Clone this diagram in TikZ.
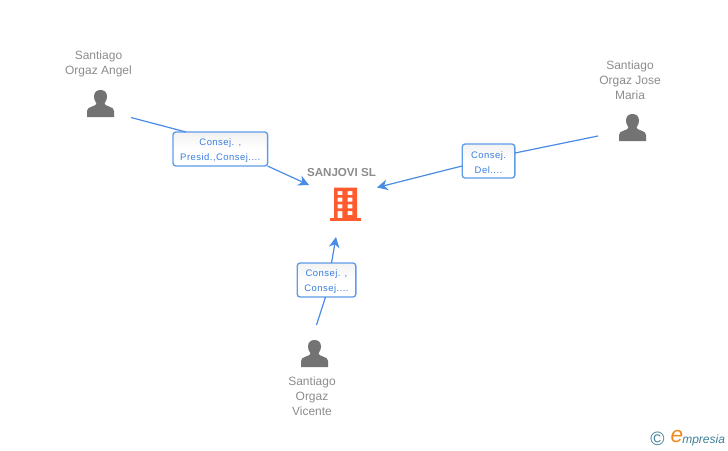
\documentclass[tikz,border=0pt]{standalone}
\usepackage{fontspec}
\setmainfont{Liberation Sans}
\usetikzlibrary{arrows.meta,calc}
\definecolor{linkblue}{HTML}{4A8BE6}
\definecolor{boxblue}{HTML}{5F9BE9}
\definecolor{labelblue}{HTML}{3A7FE0}
\definecolor{namegray}{HTML}{8C8C8C}
\definecolor{icongray}{HTML}{737373}
\definecolor{buildorange}{HTML}{FF5B2E}
\definecolor{logoteal}{HTML}{3F8097}
\definecolor{logoorange}{HTML}{F08A1D}
\newcommand{\personicon}[2]{%
  \fill[icongray,shift={(#1,#2)}]
    (0,27) -- (0,21) .. controls (0,18.5) and (2,17.5) .. (5,16.5)
    .. controls (8,15.5) and (9,15) .. (9.5,13.5)
    .. controls (7.5,11) and (7,8) .. (7,6.5)
    .. controls (7,2) and (10,0) .. (13.5,0)
    .. controls (17,0) and (20,2) .. (20,6.5)
    .. controls (20,8) and (19.5,11) .. (17.5,13.5)
    .. controls (18,15) and (19,15.5) .. (22,16.5)
    .. controls (25,17.5) and (27,18.5) .. (27,21) -- (27,27) -- cycle;}
\newcommand{\boxtext}[3]{\parbox[c][25.5pt][c]{#1}{\centering\vspace{2.4pt}#2\\#3}}
\tikzset{
  x=0.75pt,y=-0.75pt,
  person/.style={inner sep=0pt,align=center,text=namegray,font=\fontsize{9}{11.25}\selectfont},
  rolebox/.style={draw=boxblue,line width=1pt,rounded corners=2.2pt,
    top color=black!5,bottom color=white,middle color=white,inner sep=0pt,align=center,text=labelblue,
    font=\fontsize{7.1}{11.25}\selectfont\addfontfeatures{LetterSpace=5}},
  link/.style={draw=linkblue,line width=0.9pt},
  linkarrow/.style={link,-{Stealth[length=8pt,width=8pt,inset=2.5pt]}},
}
\begin{document}
\begin{tikzpicture}
\useasboundingbox (0,0) rectangle (728,450);
% people
\personicon{87}{90}
\personicon{619}{114}
\personicon{301}{340}
\node[person] (angel) at (98.5,63.5) {Santiago\\Orgaz Angel};
\node[person] (jose) at (630,80) {Santiago\\Orgaz Jose\\Maria};
\node[person] (vicente) at (312,396) {Santiago\\Orgaz\\Vicente};
% company
\node[inner sep=0pt,text=namegray,font=\fontsize{8.7}{11}\selectfont\bfseries] (company) at (341.5,172.5) {SANJOVI SL};
\fill[buildorange,even odd rule]
  (334,187.5) rectangle (357,218)
  (337.7,191) rectangle (342.3,195) (347.7,191) rectangle (352.3,195)
  (337.7,197.7) rectangle (342.3,201.7) (347.7,197.7) rectangle (352.3,201.7)
  (337.7,204.3) rectangle (342.3,208.3) (347.7,204.3) rectangle (352.3,208.3)
  (337.7,211) rectangle (342.3,218) (347.7,211) rectangle (352.3,215);
\fill[buildorange] (329.5,218) rectangle (361,220.5);
% connector ends
\coordinate (a0) at (131,117.5);
\coordinate (a1) at (309,185);
\coordinate (b0) at (598,136);
\coordinate (b1) at (377,187.5);
\coordinate (c0) at (316.5,325);
\coordinate (c1) at (336,237);
% role boxes
\node[rolebox] (ra) at (220.3,149) {\boxtext{71pt}{Consej. ,}{Presid.,Consej....}};
\node[rolebox] (rb) at (488.5,161) {\boxtext{39.5pt}{Consej.}{Del....}};
\node[rolebox] (rc) at (326.5,280) {\boxtext{44pt}{Consej. ,}{Consej....}};
% connectors
\draw[link] (a0) -- (186,132);
\draw[linkarrow] (267.5,166) -- (a1);
\draw[link] (b0) -- (515,153);
\draw[linkarrow] (462,166) -- (b1);
\draw[link] (c0) -- (325.5,297);
\draw[linkarrow] (331.5,263) -- (c1);
% logo
\node[inner sep=0pt,text=logoteal,font=\fontsize{14.5}{15}\selectfont] (copy) at (657.5,438.5) {©};
\node[inner sep=0pt,text=logoorange,font=\fontsize{17}{17}\selectfont\itshape] (e) at (677,436.5) {e};
\node[inner sep=0pt,anchor=west,text=logoteal,font=\fontsize{9}{10}\selectfont\itshape] (mp) at (682,440) {mpresia};
\end{tikzpicture}
\end{document}
